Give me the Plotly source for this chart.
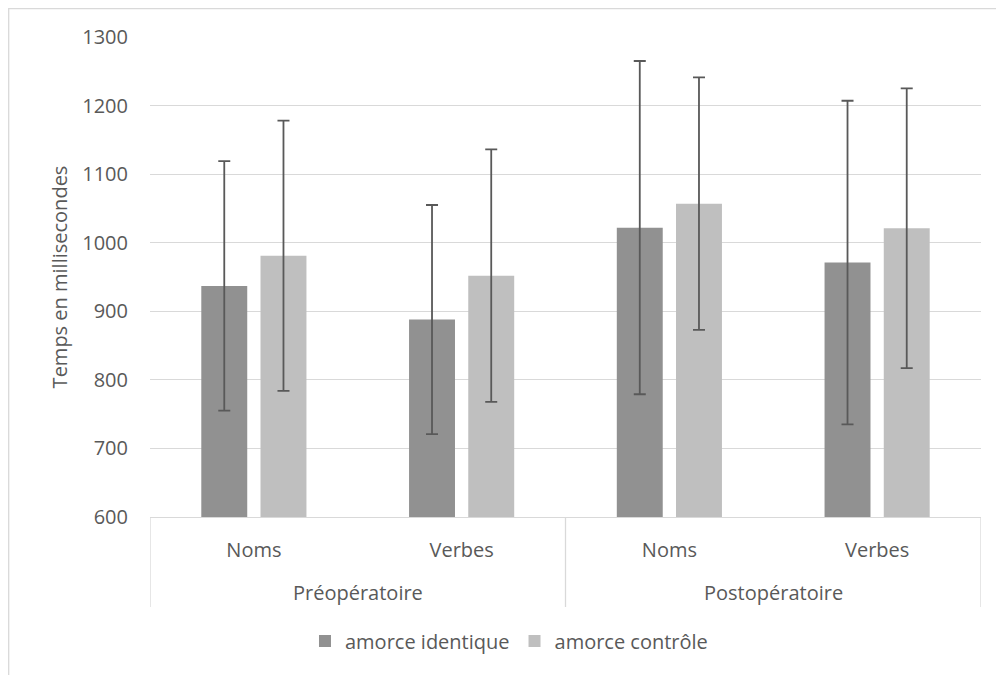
import plotly.graph_objects as go

periods = ["Préopératoire", "Postopératoire"]
word_types = ["Noms", "Verbes", "Noms", "Verbes"]
series_names = ["amorce identique", "amorce contrôle"]
identique = [937, 888, 1022, 971]
identique_err = [182, 167, 243, 236]
controle = [981, 952, 1057, 1021]
controle_err = [197, 184, 184, 204]
y_ticks = [600, 700, 800, 900, 1000, 1100, 1200, 1300]

TXT = "#595959"
GRID = "#d9d9d9"
FONT = "Open Sans"
FS = 20

xpos = list(range(len(word_types)))

fig = go.Figure()
fig.add_trace(go.Bar(
    x=xpos, y=identique, name=series_names[0],
    marker=dict(color="#919191", line=dict(width=0)),
    error_y=dict(type="data", array=identique_err, visible=True,
                 color="#595959", thickness=1.8, width=6),
))
fig.add_trace(go.Bar(
    x=xpos, y=controle, name=series_names[1],
    marker=dict(color="#bfbfbf", line=dict(width=0)),
    error_y=dict(type="data", array=controle_err, visible=True,
                 color="#595959", thickness=1.8, width=6),
))

# plot area in figure px: x 142..973, y 29..509
PW, PH = 831.0, 480.0
def px(xf):
    return (xf - 142) / PW
def py(yf):
    return (509 - yf) / PH

shapes = [
    # outer chart border (figure edge)
    dict(type="rect", xref="paper", yref="paper", x0=px(0.7), x1=px(1100),
         y0=py(800), y1=py(0.5), line=dict(color=GRID, width=1.3),
         fillcolor="rgba(0,0,0,0)", layer="below"),
]
# category box dividers below axis
for xv in [-0.5, 1.5, 3.5]:
    shapes.append(dict(type="line", xref="x", yref="paper", x0=xv, x1=xv,
                       y0=0, y1=py(599), line=dict(color=GRID, width=1.3)))

annotations = []
for i, p in enumerate(periods):
    annotations.append(dict(x=0.5 + 2 * i, xref="x", y=py(584), yref="paper",
                            text=p, showarrow=False, yanchor="middle",
                            font=dict(family=FONT, size=FS, color=TXT)))

fig.update_layout(
    width=1004, height=675,
    margin=dict(l=142, r=31, t=29, b=166, autoexpand=False),
    paper_bgcolor="white", plot_bgcolor="white",
    barmode="group", bargap=0.43, bargroupgap=0.224,
    font=dict(family=FONT, size=FS, color=TXT),
    showlegend=True,
    legend=dict(orientation="h", x=0.432, xanchor="center", y=py(633), yanchor="middle",
                font=dict(family=FONT, size=FS, color=TXT),
                itemwidth=30, traceorder="normal"),
    yaxis=dict(range=[600, 1300], tickvals=y_ticks, showgrid=True, gridcolor=GRID,
               gridwidth=1.3, zeroline=False, showline=False, automargin=False,
               ticks="outside", ticklen=17, tickcolor="rgba(0,0,0,0)",
               tickfont=dict(family=FONT, size=FS, color=TXT),
               title=dict(text="Temps en millisecondes", standoff=9,
                          font=dict(family=FONT, size=FS, color=TXT))),
    xaxis=dict(range=[-0.5, 3.5], tickvals=xpos, ticktext=word_types,
               showline=True, linecolor=GRID, linewidth=1.3, showgrid=False,
               zeroline=False, automargin=False,
               ticks="outside", ticklen=15, tickcolor="rgba(0,0,0,0)",
               tickfont=dict(family=FONT, size=FS, color=TXT)),
    shapes=shapes,
    annotations=annotations,
)

fig.write_html("out.html")
